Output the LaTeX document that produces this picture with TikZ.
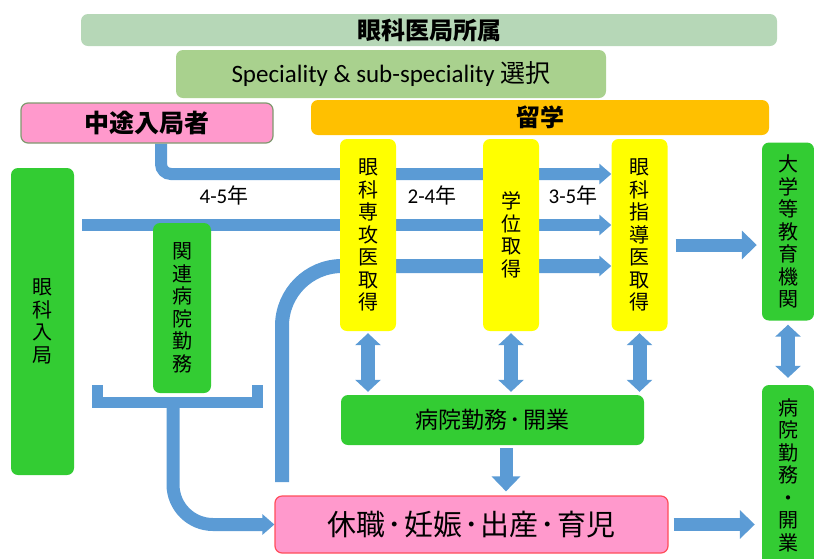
\documentclass[tikz,border=0pt]{standalone}
\usepackage{fontspec}
\setmainfont{Noto Sans CJK JP}
\newfontfamily\latinfont{Carlito}
\usetikzlibrary{arrows.meta,calc,positioning}

\definecolor{paleGreen}{HTML}{B6D7B7}
\definecolor{specGreen}{HTML}{A9D18E}
\definecolor{boxGreen}{HTML}{33CC33}
\definecolor{boxYellow}{HTML}{FFFF00}
\definecolor{ryuOrange}{HTML}{FFC000}
\definecolor{kyuPink}{HTML}{FF99CC}
\definecolor{kyuEdge}{HTML}{FF4D5A}
\definecolor{chutoEdge}{HTML}{7F9A6F}
\definecolor{flowBlue}{HTML}{5B9BD5}

\newcommand{\nakaten}[1]{\kern#1･\kern#1}

\pgfdeclarelayer{bg}
\pgfsetlayers{bg,main}

\begin{document}
\begin{tikzpicture}[x=1pt,y=-1pt,
    box/.style={rounded corners=7pt,inner sep=0pt,align=center,text=black},
    greenbox/.style={box,fill=boxGreen},
    yellowbox/.style={box,fill=boxYellow,minimum width=56pt,minimum height=192pt},
    tate/.style={font=\fontsize{20}{22.5}\selectfont},
    flow/.style={draw=flowBlue,line width=12pt,-{Triangle[length=12pt,width=20pt]}},
    bigflow/.style={draw=flowBlue,line width=13pt,-{Triangle[length=15pt,width=28pt]}},
    dflow/.style={draw=flowBlue,line width=14pt,{Triangle[length=12pt,width=25pt]}-{Triangle[length=12pt,width=25pt]}},
    yearlabel/.style={font=\fontsize{21}{21}\selectfont}]
  \useasboundingbox (0,0) rectangle (814,558);

  \node[box,fill=paleGreen,minimum width=696pt,minimum height=32pt,font=\bfseries\fontsize{24}{24}\selectfont] (shozoku) at (429,30) {眼科医局所属};
  \node[box,fill=specGreen,minimum width=430pt,minimum height=48pt,font=\fontsize{25}{25}\selectfont] (special) at (391,74) {{\latinfont Speciality \& sub-speciality} 選択};
  \node[box,fill=kyuPink,draw=chutoEdge,line width=1.2pt,minimum width=252pt,minimum height=40pt,font=\bfseries\fontsize{25}{25}\selectfont] (chuto) at (147,123) {中途入局者};
  \node[box,fill=ryuOrange,minimum width=458pt,minimum height=35pt,font=\bfseries\fontsize{24}{24}\selectfont] (ryugaku) at (540,117.5) {留学};

  \node[yellowbox,tate] (senkoi) at (368,235) {眼\\科\\専\\攻\\医\\取\\得};
  \node[yellowbox,tate] (gakui) at (511,235) {学\\位\\取\\得};
  \node[yellowbox,tate] (shidoi) at (639.5,235) {眼\\科\\指\\導\\医\\取\\得};

  \node[greenbox,tate,minimum width=52pt,minimum height=178pt] (daigaku) at (788,231.5) {大\\学\\等\\教\\育\\機\\関};
  \node[greenbox,tate,minimum width=52pt,minimum height=180pt] (byoin2) at (788,475) {病\\院\\勤\\務\\・\\開\\業};
  \node[greenbox,tate,minimum width=63pt,minimum height=307pt] (nyukyoku) at (42.5,321.5) {眼\\科\\入\\局};
  \node[greenbox,tate,minimum width=58pt,minimum height=170pt] (kanren) at (182,308) {関\\連\\病\\院\\勤\\務};
  \node[greenbox,minimum width=303pt,minimum height=50pt,font=\fontsize{23}{23}\selectfont] (byoin) at (492.5,420) {病院勤務\nakaten{2pt}開業};
  \node[box,fill=kyuPink,draw=kyuEdge,line width=1.2pt,minimum width=393pt,minimum height=57pt,font=\fontsize{29}{29}\selectfont] (kyushoku) at (471.5,524.5) {休職\nakaten{2pt}妊娠\nakaten{2pt}出産\nakaten{2pt}育児};

  \node[yearlabel] (y45) at (224,195) {{\latinfont 4-5}年};
  \node[yearlabel] (y24) at (432,195) {{\latinfont 2-4}年};
  \node[yearlabel] (y35) at (573,195) {{\latinfont 3-5}年};

  \begin{pgfonlayer}{bg}
    \coordinate (entry) at (82,225);
    \coordinate (rejoin) at (282,482);
    \coordinate (brl) at (97.5,385);
    \coordinate (brr) at (257.5,385);
    \coordinate (brk) at (173,402);
    \draw[flow,rounded corners=10pt] ([xshift=14pt]chuto.south) |- ([yshift=61pt]shidoi.west);
    \draw[flow] (entry) -- ([yshift=10pt]shidoi.west);
    \draw[flow,line width=14pt,rounded corners=60pt] (rejoin) |- ([yshift=-31pt]shidoi.west);
    \draw[bigflow] ([xshift=8pt,yshift=-10pt]shidoi.east) -- ([xshift=-5pt,yshift=-13.5pt]daigaku.west);
    \draw[dflow,shorten <=2pt,shorten >=3pt] (senkoi.south) -- (senkoi.south |- byoin.north);
    \draw[dflow,shorten <=2pt,shorten >=3pt] (gakui.south) -- (gakui.south |- byoin.north);
    \draw[dflow,shorten <=2pt,shorten >=3pt] (shidoi.south) -- (shidoi.south |- byoin.north);
    \draw[dflow,shorten <=4pt,shorten >=7pt] (daigaku.south) -- (byoin2.north);
    \draw[bigflow,shorten <=3pt,shorten >=4pt] ([xshift=13.5pt]byoin.south) -- ([xshift=13.5pt]byoin.south |- kyushoku.north);
    \draw[bigflow,shorten <=5pt,shorten >=7pt] (kyushoku.east) -- (kyushoku.east -| byoin2.west);
    \draw[draw=flowBlue,line width=11pt,line join=miter] (brl) -- ++(0,17) -| (brr);
    \draw[flow,line width=13pt,rounded corners=40pt] (brk) |- (kyushoku.west);
  \end{pgfonlayer}
\end{tikzpicture}
\end{document}
